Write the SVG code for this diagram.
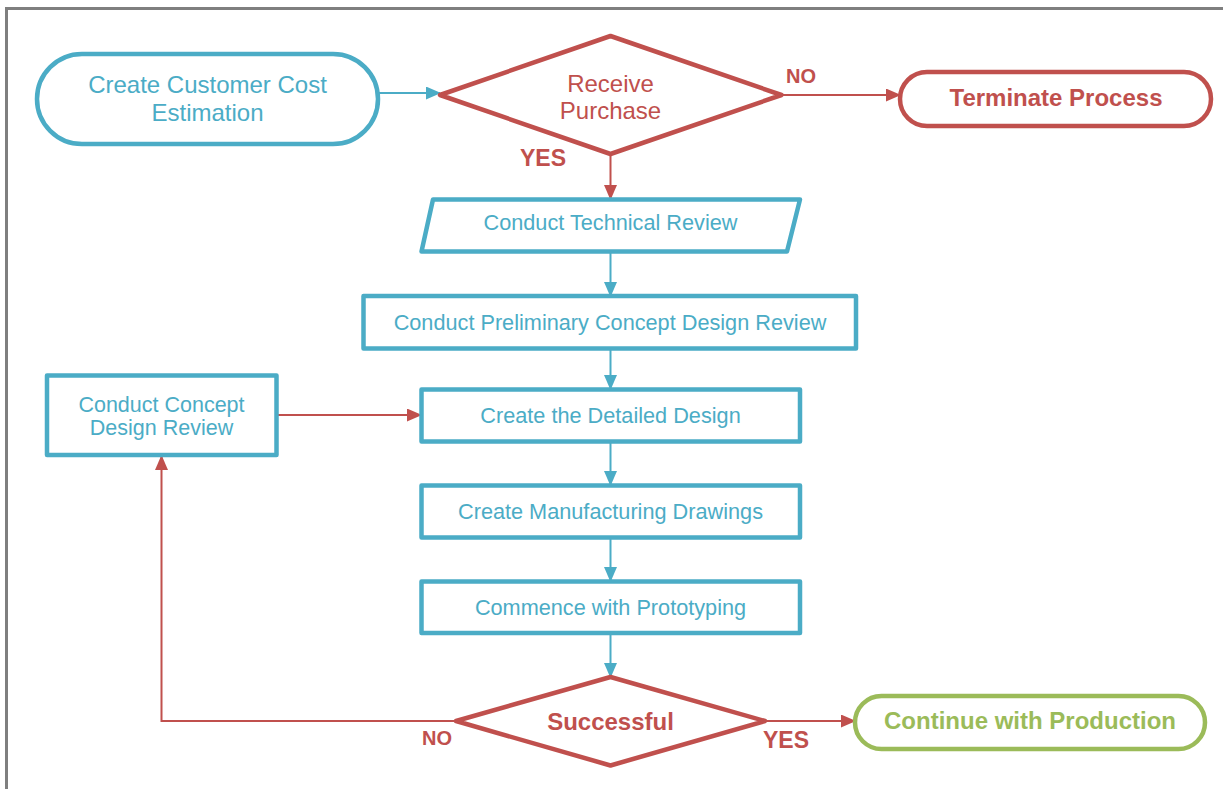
<svg xmlns="http://www.w3.org/2000/svg" width="1223" height="789" viewBox="0 0 1223 789">
<style>
.b{fill:#fff;stroke:#4BACC6;stroke-width:4.5;stroke-linejoin:round}
.r{fill:#fff;stroke:#C0504D;stroke-width:4.5;stroke-linejoin:round}
.g{fill:#fff;stroke:#9BBB59;stroke-width:4.5}
.tb{font-family:"Liberation Sans",Arial,sans-serif;fill:#4BACC6;text-anchor:middle}
.tr{font-family:"Liberation Sans",Arial,sans-serif;fill:#C0504D;text-anchor:middle}
.tg{font-family:"Liberation Sans",Arial,sans-serif;fill:#9BBB59;text-anchor:middle;font-weight:bold}
.cb{fill:none;stroke:#4BACC6;stroke-width:2}
.cr{fill:none;stroke:#C0504D;stroke-width:2}
.lbl{font-family:"Liberation Sans",Arial,sans-serif;fill:#C0504D;font-weight:bold}
</style>
<defs>
<marker id="ab" markerWidth="15" markerHeight="13" refX="14" refY="6.5" orient="auto" markerUnits="userSpaceOnUse"><path d="M0,0 L15,6.5 L0,13 Z" fill="#4BACC6"/></marker>
<marker id="ar" markerWidth="15" markerHeight="13" refX="14" refY="6.5" orient="auto" markerUnits="userSpaceOnUse"><path d="M0,0 L15,6.5 L0,13 Z" fill="#C0504D"/></marker>
</defs>
<rect width="1223" height="789" fill="#fff"/>
<path d="M6.5,789 V8.5 H1223" fill="none" stroke="#7F7F7F" stroke-width="3"/>

<g id="connectors">
<line class="cb" x1="379" y1="93" x2="440" y2="93" marker-end="url(#ab)"/>
<line class="cr" x1="782" y1="95" x2="900" y2="95" marker-end="url(#ar)"/>
<line class="cr" x1="610.5" y1="154" x2="610.5" y2="199" marker-end="url(#ar)"/>
<line class="cb" x1="610.5" y1="252" x2="610.5" y2="296" marker-end="url(#ab)"/>
<line class="cb" x1="610.5" y1="349" x2="610.5" y2="389" marker-end="url(#ab)"/>
<line class="cr" x1="277" y1="415" x2="421" y2="415" marker-end="url(#ar)"/>
<line class="cb" x1="610.5" y1="442" x2="610.5" y2="485" marker-end="url(#ab)"/>
<line class="cb" x1="610.5" y1="538" x2="610.5" y2="581" marker-end="url(#ab)"/>
<line class="cb" x1="610.5" y1="633" x2="610.5" y2="677" marker-end="url(#ab)"/>
<polyline class="cr" points="456,721 161.5,721 161.5,456" marker-end="url(#ar)"/>
<line class="cr" x1="765" y1="721" x2="855" y2="721" marker-end="url(#ar)"/>
<text class="lbl" x="786" y="83" font-size="20">NO</text>
<text class="lbl" x="520" y="166" font-size="23">YES</text>
<text class="lbl" x="422" y="745" font-size="20">NO</text>
<text class="lbl" x="763" y="748" font-size="23">YES</text>
</g>

<g id="start">
<rect class="b" x="37" y="54" width="341" height="90" rx="45" ry="45"/>
<text class="tb" x="207.5" y="93" font-size="24">Create Customer Cost</text>
<text class="tb" x="207.5" y="121" font-size="24">Estimation</text>
</g>

<g id="receive">
<polygon class="r" points="440,95 610.5,36 781.5,95 610.5,154"/>
<text class="tr" x="610.5" y="92" font-size="24">Receive</text>
<text class="tr" x="610.5" y="119" font-size="24">Purchase</text>
</g>

<g id="terminate">
<rect class="r" x="900" y="72" width="311" height="54" rx="27" ry="27"/>
<text class="tr" x="1056" y="106" font-size="24" font-weight="bold">Terminate Process</text>
</g>

<g id="technical">
<polygon class="b" points="433,199.5 800,199.5 787,251.5 421.5,251.5"/>
<text class="tb" x="610.5" y="230" font-size="21.7">Conduct Technical Review</text>
</g>

<g id="preliminary">
<rect class="b" x="363.5" y="296" width="492.5" height="52.5"/>
<text class="tb" x="610" y="330" font-size="21.7">Conduct Preliminary Concept Design Review</text>
</g>

<g id="concept">
<rect class="b" x="47" y="375.5" width="229.5" height="79.5"/>
<text class="tb" x="161.5" y="411.5" font-size="21.5">Conduct Concept</text>
<text class="tb" x="161.5" y="434.5" font-size="21.5">Design Review</text>
</g>

<g id="detailed">
<rect class="b" x="421.5" y="389.5" width="378.5" height="52"/>
<text class="tb" x="610.5" y="423" font-size="21.7">Create the Detailed Design</text>
</g>

<g id="manufacturing">
<rect class="b" x="421.5" y="485.5" width="378.5" height="52"/>
<text class="tb" x="610.5" y="519" font-size="21.7">Create Manufacturing Drawings</text>
</g>

<g id="prototyping">
<rect class="b" x="421.5" y="581.5" width="378.5" height="51.5"/>
<text class="tb" x="610.5" y="615" font-size="21.7">Commence with Prototyping</text>
</g>

<g id="successful">
<polygon class="r" points="456,721 610.5,677 765,721 610.5,765.5"/>
<text class="tr" x="610.5" y="730" font-size="24" font-weight="bold">Successful</text>
</g>

<g id="continue">
<rect class="g" x="855" y="696" width="350" height="53" rx="26.5" ry="26.5"/>
<text class="tg" x="1030" y="729" font-size="24">Continue with Production</text>
</g>
</svg>
